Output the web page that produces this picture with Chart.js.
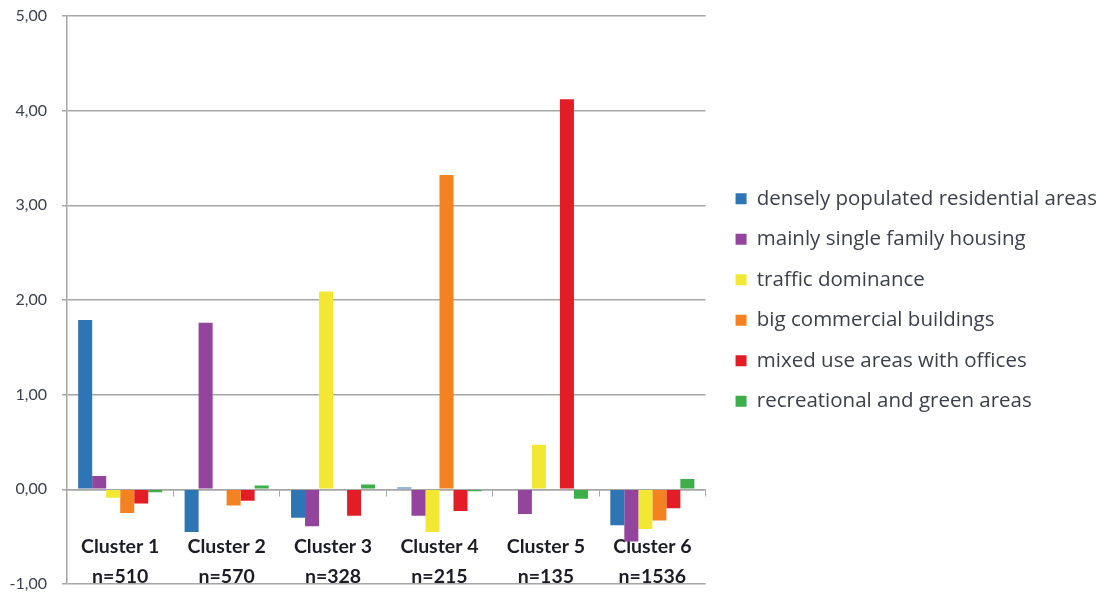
<!DOCTYPE html>
<html>
<head>
<meta charset="utf-8">
<script src="https://cdn.jsdelivr.net/npm/chart.js@4"></script>
<style>
  html, body { margin: 0; padding: 0; background: #fff; }
  #wrap { width: 1105px; height: 594px; }
</style>
</head>
<body>
<div id="wrap"><canvas id="clusterChart"></canvas></div>
<script>
const clusters = [
    ['Cluster 1', 'n=510'],
    ['Cluster 2', 'n=570'],
    ['Cluster 3', 'n=328'],
    ['Cluster 4', 'n=215'],
    ['Cluster 5', 'n=135'],
    ['Cluster 6', 'n=1536']
];

const densResidential = [1.79, -0.45, -0.30, 0.02, 0.00, -0.38];
const singleFamily    = [0.14, 1.76, -0.39, -0.28, -0.26, -0.55];
const traffic         = [-0.09, 0.01, 2.09, -0.45, 0.47, -0.42];
const bigCommercial   = [-0.25, -0.17, 0.01, 3.32, 0.01, -0.33];
const mixedOffices    = [-0.15, -0.12, -0.28, -0.23, 4.12, -0.20];
const recreational    = [-0.03, 0.04, 0.05, -0.02, -0.10, 0.11];

const seriesNames = [
    'densely populated residential areas',
    'mainly single family housing',
    'traffic dominance',
    'big commercial buildings',
    'mixed use areas with offices',
    'recreational and green areas'
];
const seriesColors = ['#2E75B6', '#93449C', '#F2E833', '#F58220', '#E31D25', '#3DAE49'];

const yTicks = [-1, 0, 1, 2, 3, 4, 5];

const gridGray = '#a6a6a6';
const textGray = '#3b3f4a';

document.addEventListener('DOMContentLoaded', function() {
    const ctx = document.getElementById('clusterChart').getContext('2d');
    const allSeries = [densResidential, singleFamily, traffic, bigCommercial, mixedOffices, recreational];

    new Chart(ctx, {
        type: 'bar',
        data: {
            labels: clusters,
            datasets: allSeries.map((values, i) => ({
                label: seriesNames[i],
                data: values,
                backgroundColor: seriesColors[i],
                borderWidth: 0,
                barPercentage: 1.0,
                categoryPercentage: 0.79
            }))
        },
        options: {
            responsive: true,
            maintainAspectRatio: false,
            animation: false,
            layout: {
                padding: { left: 10, top: 16, bottom: 10, right: -2 }
            },
            plugins: {
                tooltip: { enabled: false },
                legend: {
                    position: 'right',
                    align: 'center',
                    maxWidth: 420,
                    labels: {
                        boxWidth: 11,
                        boxHeight: 11,
                        padding: 20,
                        color: textGray,
                        font: { family: 'Open Sans', size: 20.5 }
                    }
                }
            },
            scales: {
                x: {
                    position: { y: 0 },
                    afterFit: function(scale) { scale.height = 0; },
                    grid: {
                        display: true,
                        drawOnChartArea: false,
                        drawTicks: true,
                        tickLength: 6,
                        color: gridGray,
                        offset: true
                    },
                    border: { display: true, color: gridGray, width: 1.5 },
                    ticks: {
                        padding: 36,
                        color: '#1c1c26',
                        maxRotation: 0,
                        font: { family: 'Lato', size: 19.5, weight: 'bold', lineHeight: 1.55 }
                    }
                },
                y: {
                    min: -1,
                    max: 5,
                    afterBuildTicks: function(scale) {
                        scale.ticks = yTicks.map(v => ({ value: v }));
                    },
                    afterFit: function(scale) {
                        scale.width = 57;
                        scale.paddingTop = 0;
                        scale.paddingBottom = 0;
                    },
                    grid: {
                        color: gridGray,
                        lineWidth: 1.5,
                        tickLength: 5
                    },
                    border: { display: true, color: gridGray, width: 1.5 },
                    ticks: {
                        padding: 15,
                        color: textGray,
                        font: { family: 'Lato', size: 16 },
                        callback: v => v.toFixed(2).replace('.', ',')
                    }
                },
                // empty spacer between plot and legend
                gap: {
                    type: 'linear',
                    position: 'right',
                    grid: { display: false },
                    border: { display: false },
                    ticks: { display: false },
                    afterFit: function(scale) {
                        scale.width = 10;
                        scale.paddingTop = 0;
                        scale.paddingBottom = 0;
                    }
                }
            }
        }
    });
});
</script>
</body>
</html>
